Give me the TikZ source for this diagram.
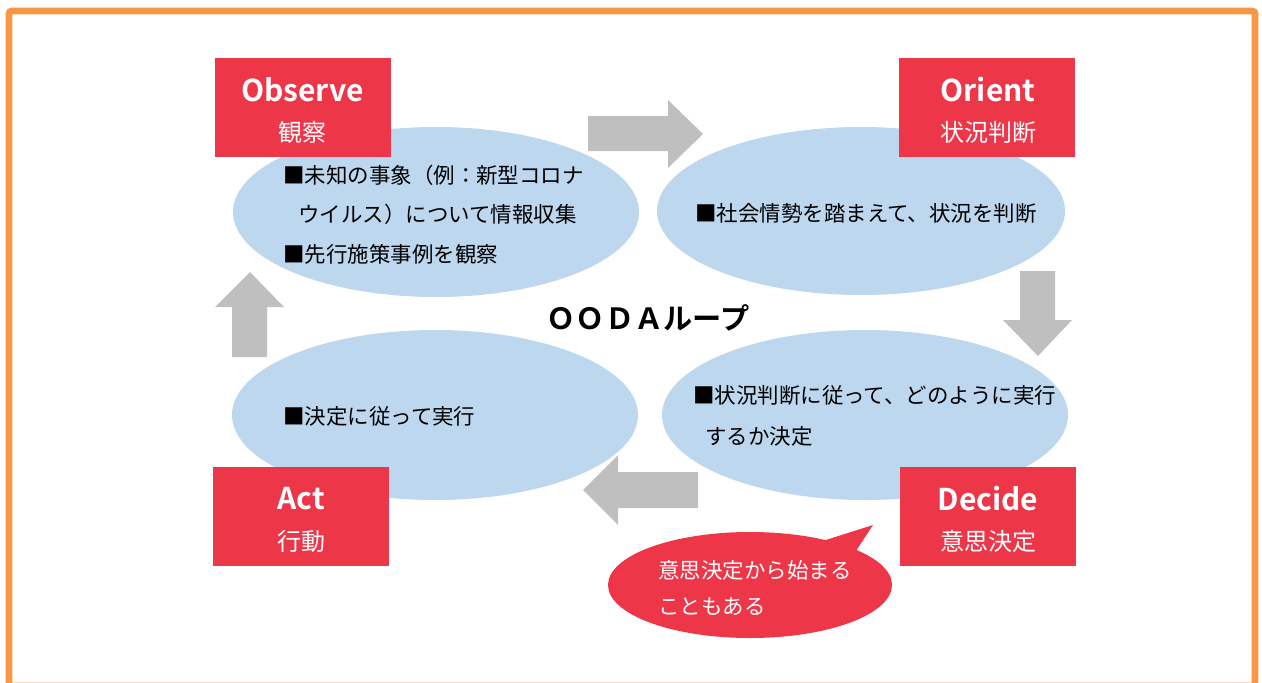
\documentclass[tikz,border=0pt]{standalone}
\usepackage{fontspec}
\setmainfont{Noto Sans CJK JP}[BoldFont={Noto Sans CJK JP Bold}]
\definecolor{oodared}{HTML}{EE3649}
\definecolor{frameorange}{HTML}{F79646}
\definecolor{ellblue}{HTML}{BDD7EE}
\definecolor{arrgray}{HTML}{BFBFBF}
\tikzset{
  phase/.style={fill=oodared, draw=none, minimum width=132pt, minimum height=74.25pt, inner sep=0pt},
  bigarrow/.style={fill=arrgray, draw=none},
  body/.style={anchor=west, inner sep=0pt, font=\fontsize{16.1}{22}\selectfont, text=black},
  title/.style={text=white, font=\bfseries\fontsize{22.5}{24}\selectfont, inner sep=0pt},
  sub/.style={text=white, font=\fontsize{18}{22}\selectfont, inner sep=0pt},
}
\begin{document}
\begin{tikzpicture}[x=0.75pt,y=-0.75pt]
\useasboundingbox (0,0) rectangle (1262,682);
% frame
\draw[frameorange, line width=5pt, rounded corners=2pt] (9,11) rectangle (1255,686);
% ellipses
\fill[ellblue] (436,212) ellipse [x radius=203, y radius=85];
\fill[ellblue] (861,211) ellipse [x radius=204, y radius=84];
\fill[ellblue] (435,415) ellipse [x radius=203, y radius=85];
\fill[ellblue] (865,415) ellipse [x radius=203, y radius=85];
% block arrows
\fill[bigarrow] (588,116) -- (668,116) -- (668,100) -- (703,134) -- (668,168) -- (668,151) -- (588,151) -- cycle;
\fill[bigarrow] (1020,271) -- (1055,271) -- (1055,320) -- (1072,320) -- (1038,356) -- (1003,320) -- (1020,320) -- cycle;
\fill[bigarrow] (698,472) -- (618,472) -- (618,455) -- (583,490) -- (618,525) -- (618,508) -- (698,508) -- cycle;
\fill[bigarrow] (232,357) -- (267,357) -- (267,307) -- (284,307) -- (250,272) -- (215,307) -- (232,307) -- cycle;
% phase boxes
\node[phase] (obs) at (302.5,107.5) {};
\node[title] (obsT) at (302.5,90) {Observe};
\node[sub] (obsS) at (302.5,132) {観察};
\node[phase] (ori) at (987,107.5) {};
\node[title] (oriT) at (988,90) {Orient};
\node[sub] (oriS) at (988,132) {状況判断};
\node[phase] (act) at (301,516.5) {};
\node[title] (actT) at (301,499) {Act};
\node[sub] (actS) at (301,541) {行動};
\node[phase] (dec) at (988,516.5) {};
\node[title] (decT) at (988,499) {Decide};
\node[sub] (decS) at (988,541) {意思決定};
% body texts
\node[body] (t1) at (283,175) {■未知の事象（例：新型コロナ};
\node[body] (t2) at (298,214) {ウイルス）について情報収集};
\node[body] (t3) at (283,254) {■先行施策事例を観察};
\node[body] (t4) at (695,213) {■社会情勢を踏まえて、状況を判断};
\node[body] (t5) at (693,395) {■状況判断に従って、どのように実行};
\node[body] (t6) at (705,436) {するか決定};
\node[body] (t7) at (283,416) {■決定に従って実行};
% center title
\node[font=\bfseries\fontsize{21.9}{24}\selectfont, inner sep=0pt] (ooda) at (648,318) {ＯＯＤＡループ};
% callout
\fill[oodared] (750,585) ellipse [x radius=142, y radius=53];
\fill[oodared] (810,545) -- (873,525) -- (850,560) -- cycle;
\node[body, text=white] (c1) at (658,570) {意思決定から始まる};
\node[body, text=white] (c2) at (658,607) {こともある};
\end{tikzpicture}
\end{document}
